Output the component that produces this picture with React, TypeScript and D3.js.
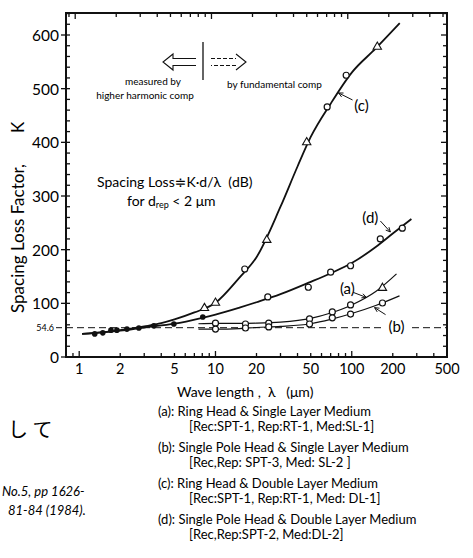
import { useLayoutEffect, useRef } from 'react'
import * as d3 from 'd3'

const W = 473
const H = 558
const FONT = 'Lato, "DejaVu Sans", sans-serif'

const xTickLabels = [1, 2, 5, 10, 20, 50, 100, 200, 500]
const yTickLabels = [0, 100, 200, 300, 400, 500, 600]
const refLevel = 54.6

// filled dots: measured by higher harmonic comp
const lowLambda = [1.3, 1.49, 1.71, 1.89, 2.24, 2.74, 3.53, 4.95, 8.07]
const lowK = [43, 45, 50, 50, 52, 54, 58, 61.5, 74.5]

// fitted curves
const aCurveLambda = [7.5, 10, 15, 20, 30, 50, 70, 100, 150, 213]
const aCurveK = [62, 62.5, 62.5, 63, 65, 72, 82, 97, 122, 155]
const bCurveLambda = [7.5, 10, 15, 20, 30, 50, 70, 100, 150, 224]
const bCurveK = [52, 52, 53, 55, 57, 62, 70, 81, 96, 114]
const cCurveLambda = [1.05, 1.5, 2, 3, 4, 5, 7, 10, 15, 20, 30, 40, 50, 70, 100, 150, 225]
const cCurveK = [43, 46, 50, 57, 63, 70, 83, 101, 148, 186, 280, 355, 410, 472, 530, 575, 622]
const dCurveLambda = [1.05, 2, 3, 5, 8, 10, 15, 20, 30, 50, 70, 100, 150, 200, 274]
const dCurveK = [43, 49, 55, 62, 73, 79, 92, 102, 117, 140, 156, 175, 205, 230, 257]

// measured points (open symbols)
const aCircLambda = [10, 16.6, 24.6, 49, 72, 98]
const aCircK = [63, 61.5, 63, 71, 84, 97]
const aTriLambda = [168]
const aTriK = [128.6]
const bCircLambda = [10, 16.6, 24.6, 49, 72, 98, 168]
const bCircK = [52, 54, 56, 61.5, 73, 80, 100.6]
const cTriLambda = [8.3, 10, 23.8, 46.7, 154]
const cTriK = [91, 101, 218, 400, 578]
const cCircLambda = [16.4, 66, 91]
const cCircK = [164, 466, 525]
const dCircLambda = [24.2, 48, 70, 98, 162, 235]
const dCircK = [112, 130, 158, 170, 220, 240]

// curve labels with arrows: tip on the curve
const annLabels = ['(a)', '(b)', '(c)', '(d)']
const annTipLambda = [128, 147, 80, 192]
const annTipK = [111, 92, 492, 233]

const legendLines = [
  '(a): Ring Head & Single Layer Medium',
  '[Rec:SPT-1, Rep:RT-1, Med:SL-1]',
  '(b): Single Pole Head & Single Layer Medium',
  '[Rec,Rep: SPT-3, Med: SL-2 ]',
  '(c): Ring Head & Double Layer Medium',
  '[Rec:SPT-1, Rep:RT-1, Med: DL-1]',
  '(d): Single Pole Head & Double Layer Medium',
  '[Rec,Rep:SPT-2, Med:DL-2]'
]

const zip = (a, b) => a.map((v, i) => [v, b[i]])

const useD3 = (renderChartFn, dependencies) => {
  const ref = useRef()
  useLayoutEffect(() => {
    const svg = d3.select(ref.current)
    svg.selectAll('*').remove()
    renderChartFn(svg)
  }, dependencies)
  return ref
}

const App = () => {
  const ref = useD3((svg) => {
    const left = 66
    const right = 447
    const top = 13
    const bottom = 357
    const x = d3.scaleLog().domain([0.8, 500]).range([left, right])
    const y = d3.scaleLinear().domain([0, 641]).range([bottom, top])

    svg.style('font-family', FONT)

    // reference level (dashed), with gap for (b)
    const g = svg.append('g')
    g.append('line')
      .attr('x1', left).attr('x2', 384)
      .attr('y1', y(refLevel)).attr('y2', y(refLevel))
      .attr('stroke', '#111').attr('stroke-width', 1).attr('stroke-dasharray', '7,4')
    g.append('line')
      .attr('x1', 412).attr('x2', right)
      .attr('y1', y(refLevel)).attr('y2', y(refLevel))
      .attr('stroke', '#111').attr('stroke-width', 1).attr('stroke-dasharray', '7,4')

    // curves
    const line = d3.line()
      .x((d) => x(d[0]))
      .y((d) => y(d[1]))
      .curve(d3.curveMonotoneX)
    const curves = [
      [zip(aCurveLambda, aCurveK), 1.2],
      [zip(bCurveLambda, bCurveK), 1.2],
      [zip(cCurveLambda, cCurveK), 1.8],
      [zip(dCurveLambda, dCurveK), 1.8]
    ]
    g.selectAll('path.curve')
      .data(curves)
      .enter()
      .append('path')
      .attr('class', 'curve')
      .attr('d', (d) => line(d[0]))
      .attr('fill', 'none')
      .attr('stroke', '#111')
      .attr('stroke-width', (d) => d[1])

    // markers
    const circles = [
      ...zip(aCircLambda, aCircK),
      ...zip(bCircLambda, bCircK),
      ...zip(cCircLambda, cCircK),
      ...zip(dCircLambda, dCircK)
    ]
    g.selectAll('circle.open')
      .data(circles)
      .enter()
      .append('circle')
      .attr('cx', (d) => x(d[0]))
      .attr('cy', (d) => y(d[1]))
      .attr('r', 3)
      .attr('fill', '#fff')
      .attr('stroke', '#111')
      .attr('stroke-width', 1.2)

    const tris = [...zip(aTriLambda, aTriK), ...zip(cTriLambda, cTriK)]
    const tri = d3.symbol().type(d3.symbolTriangle).size(30)
    g.selectAll('path.tri')
      .data(tris)
      .enter()
      .append('path')
      .attr('transform', (d) => `translate(${x(d[0])},${y(d[1])})`)
      .attr('d', tri)
      .attr('fill', '#fff')
      .attr('stroke', '#111')
      .attr('stroke-width', 1.1)

    g.selectAll('circle.filled')
      .data(zip(lowLambda, lowK))
      .enter()
      .append('circle')
      .attr('cx', (d) => x(d[0]))
      .attr('cy', (d) => y(d[1]))
      .attr('r', 2.8)
      .attr('fill', '#111')

    // curve labels and arrows
    const labelOffsets = [[-19, -9], [22, 18], [23, 12], [-20, -15]]
    const arrowStart = [[-13, -5], [11, 7], [14, 7], [-10, -11]]
    annLabels.forEach((lab, i) => {
      const tx = x(annTipLambda[i])
      const ty = y(annTipK[i])
      const sx = tx + arrowStart[i][0]
      const sy = ty + arrowStart[i][1]
      g.append('line')
        .attr('x1', sx).attr('y1', sy).attr('x2', tx).attr('y2', ty)
        .attr('stroke', '#111').attr('stroke-width', 1)
      const ang = Math.atan2(ty - sy, tx - sx)
      const hl = 5
      g.append('path')
        .attr('d', `M${tx - hl * Math.cos(ang - 0.45)},${ty - hl * Math.sin(ang - 0.45)}L${tx},${ty}L${tx - hl * Math.cos(ang + 0.45)},${ty - hl * Math.sin(ang + 0.45)}`)
        .attr('fill', 'none').attr('stroke', '#111').attr('stroke-width', 1)
      g.append('text')
        .attr('x', tx + labelOffsets[i][0])
        .attr('y', ty + labelOffsets[i][1])
        .attr('text-anchor', 'middle')
        .attr('dominant-baseline', 'central')
        .attr('font-size', 15)
        .text(lab)
    })

    // frame
    svg.append('rect')
      .attr('x', left).attr('y', top)
      .attr('width', right - left).attr('height', bottom - top)
      .attr('fill', 'none').attr('stroke', '#111').attr('stroke-width', 2)

    // x ticks, bottom and top, inward
    const xt = x.ticks().filter((v) => v > 0.85)
    const decade = (v) => Math.abs(Math.log10(v) - Math.round(Math.log10(v))) < 1e-6
    xt.forEach((v) => {
      const len = decade(v) ? 6 : 4
      svg.append('line')
        .attr('x1', x(v)).attr('x2', x(v))
        .attr('y1', bottom).attr('y2', bottom - len)
        .attr('stroke', '#111').attr('stroke-width', 1.3)
      svg.append('line')
        .attr('x1', x(v) - 4).attr('x2', x(v) - 4)
        .attr('y1', top).attr('y2', top + len)
        .attr('stroke', '#111').attr('stroke-width', 1.3)
    })
    svg.selectAll('text.xt')
      .data(xTickLabels)
      .enter()
      .append('text')
      .attr('x', (d) => x(d))
      .attr('y', bottom + 17)
      .attr('text-anchor', 'middle')
      .attr('font-size', 14.5)
      .text((d) => d)

    // y ticks
    d3.range(0, 641, 20).forEach((v) => {
      const major = v % 100 === 0
      svg.append('line')
        .attr('x1', left).attr('x2', left + 4)
        .attr('y1', y(v)).attr('y2', y(v))
        .attr('stroke', '#111').attr('stroke-width', 1.3)
      svg.append('line')
        .attr('x1', right).attr('x2', right - (major ? 6 : 4))
        .attr('y1', y(v)).attr('y2', y(v))
        .attr('stroke', '#111').attr('stroke-width', 1.3)
      if (major) {
        svg.append('line')
          .attr('x1', left - 5).attr('x2', left)
          .attr('y1', y(v)).attr('y2', y(v))
          .attr('stroke', '#111').attr('stroke-width', 1.3)
      }
    })
    svg.selectAll('text.yt')
      .data(yTickLabels)
      .enter()
      .append('text')
      .attr('x', left - 7)
      .attr('y', (d) => y(d))
      .attr('text-anchor', 'end')
      .attr('dominant-baseline', 'central')
      .attr('font-size', 15.5)
      .text((d) => d)

    // 54.6 marker
    svg.append('text')
      .attr('x', 54).attr('y', y(refLevel))
      .attr('text-anchor', 'end')
      .attr('dominant-baseline', 'central')
      .attr('font-size', 9)
      .text(refLevel)
    svg.append('line')
      .attr('x1', 56).attr('x2', 62)
      .attr('y1', y(refLevel)).attr('y2', y(refLevel))
      .attr('stroke', '#111').attr('stroke-width', 1)

    // axis titles
    svg.append('text')
      .attr('transform', `translate(24, 313) rotate(-90)`)
      .attr('font-size', 17)
      .text('Spacing Loss Factor,')
    svg.append('text')
      .attr('transform', `translate(24, 133) rotate(-90)`)
      .attr('font-size', 17)
      .text('K')
    svg.append('text')
      .attr('x', 177).attr('y', 397)
      .attr('font-size', 14)
      .style('white-space', 'pre')
      .text('Wave length ,  λ   (μm)')

    // formula
    svg.append('text')
      .attr('x', 97).attr('y', 187)
      .attr('font-size', 14)
      .style('white-space', 'pre')
      .text('Spacing Loss≑K·d/λ  (dB)')
    const f = svg.append('text').attr('x', 127).attr('y', 206).attr('font-size', 14)
    f.append('tspan').text('for d')
    f.append('tspan').attr('font-size', 9).attr('dy', 2).text('rep')
    f.append('tspan').attr('dy', -2).text(' < 2 μm')

    // measurement-range arrows
    const ay = 62
    svg.append('path')
      .attr('d', `M196,${ay - 3.5}H173V${ay - 8}L163,${ay}L173,${ay + 8}V${ay + 3.5}H196`)
      .attr('fill', 'none').attr('stroke', '#111').attr('stroke-width', 1.1)
    svg.append('line')
      .attr('x1', 203).attr('x2', 203).attr('y1', 42).attr('y2', 80)
      .attr('stroke', '#111').attr('stroke-width', 1.3)
    svg.append('path')
      .attr('d', `M211,${ay - 3.5}H236M236,${ay + 3.5}H211`)
      .attr('fill', 'none').attr('stroke', '#111').attr('stroke-width', 1.1).attr('stroke-dasharray', '4,2')
    svg.append('path')
      .attr('d', `M236,${ay - 8}L246,${ay}L236,${ay + 8}`)
      .attr('fill', 'none').attr('stroke', '#111').attr('stroke-width', 1.1)
    svg.append('text').attr('x', 153).attr('y', 85).attr('text-anchor', 'middle')
      .attr('font-size', 10).text('measured by')
    svg.append('text').attr('x', 145).attr('y', 99).attr('text-anchor', 'middle')
      .attr('font-size', 10).text('higher harmonic comp')
    svg.append('text').attr('x', 227).attr('y', 88)
      .attr('font-size', 10).text('by fundamental comp')

    // legend below
    svg.selectAll('text.leg')
      .data(legendLines)
      .enter()
      .append('text')
      .attr('x', (d, i) => (i % 2 === 0 ? 158 : 189))
      .attr('y', (d, i) => 416 + Math.floor(i / 2) * 36 + (i % 2) * 15)
      .attr('font-size', 13)
      .style('white-space', 'pre')
      .text((d) => d)

    // handwritten notes
    svg.append('text').attr('x', 8).attr('y', 437).attr('font-size', 20)
      .attr('font-family', '"Noto Sans CJK JP", sans-serif').text('し て')
    svg.append('text').attr('x', 2).attr('y', 496).attr('font-size', 13)
      .attr('font-style', 'italic').text('No.5, pp 1626-')
    svg.append('text').attr('x', 8).attr('y', 515).attr('font-size', 13)
      .attr('font-style', 'italic').text('81-84 (1984).')
  }, [])

  return (
    <svg
      ref={ref}
      width={W}
      height={H}
      style={{ position: 'absolute', left: 0, top: 0, background: '#fff' }}
    />
  )
}

export default App
